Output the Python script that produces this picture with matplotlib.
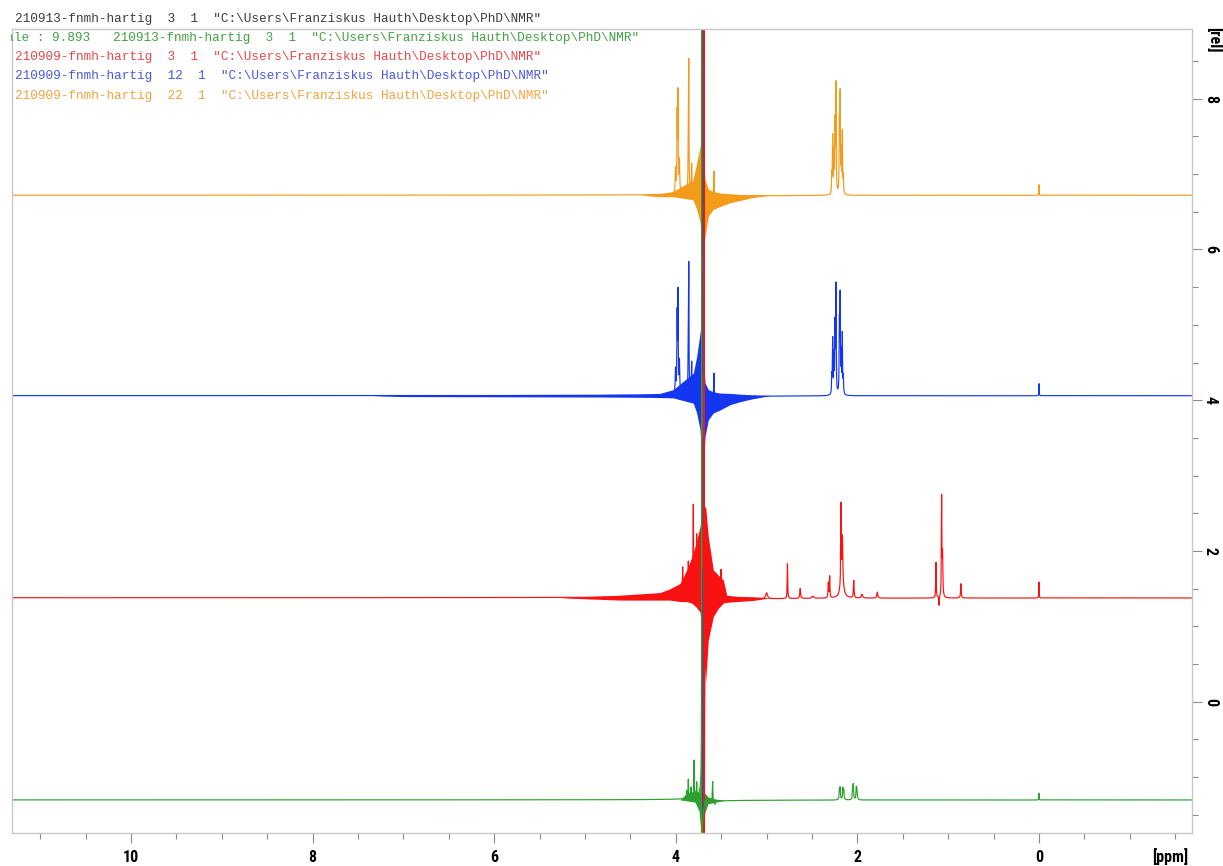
import numpy as np
import matplotlib
matplotlib.use("Agg")
import matplotlib.pyplot as plt
from matplotlib.ticker import MultipleLocator, FixedLocator
from matplotlib import font_manager as fm
from matplotlib.transforms import Bbox

# ---------------- data ----------------
x_major_ticks = [10, 8, 6, 4, 2, 0]
y_major_ticks = [8, 6, 4, 2, 0]
x_limits = (11.311, -1.682)
y_limits = (-1.744, 8.926)

title_black = '210913-fnmh-hartig  3  1  "C:\\Users\\Franziskus Hauth\\Desktop\\PhD\\NMR"'
title_green = 'Scale : 9.893   210913-fnmh-hartig  3  1  "C:\\Users\\Franziskus Hauth\\Desktop\\PhD\\NMR"'
title_red = '210909-fnmh-hartig  3  1  "C:\\Users\\Franziskus Hauth\\Desktop\\PhD\\NMR"'
title_blue = '210909-fnmh-hartig  12  1  "C:\\Users\\Franziskus Hauth\\Desktop\\PhD\\NMR"'
title_orange = '210909-fnmh-hartig  22  1  "C:\\Users\\Franziskus Hauth\\Desktop\\PhD\\NMR"'

# orange trace (210909 / 22)
orange_base = 6.72
orange_peak_ppm = [4.003, 3.985, 3.976, 3.960, 3.862, 3.857, 3.825, 3.579,
                   2.282, 2.272, 2.258, 2.246, 2.236, 2.198, 2.190, 2.178, 2.166, 2.155, 0.000]
orange_peak_h = [0.32, 1.00, 1.28, 0.42, 0.70, 1.60, 0.38, 0.35,
                 0.25, 0.75, 0.52, 0.90, 1.42, 0.90, 1.25, 0.52, 0.80, 0.22, 0.14]
orange_peak_w = [0.004, 0.003, 0.003, 0.004, 0.003, 0.0025, 0.003, 0.003,
                 0.003, 0.003, 0.003, 0.003, 0.003, 0.003, 0.003, 0.003, 0.003, 0.003, 0.002]
orange_solv_ppm = [3.703]
orange_solv_h = [80.0]
orange_solv_w = [0.00005]
orange_env_ppm = [4.394, 4.174, 4.031, 3.811, 3.770, 3.733, 3.706, 3.678, 3.642,
                  3.590, 3.513, 3.403, 3.293, 3.150, 2.963]
orange_env_up = [0.0, 0.02, 0.05, 0.20, 0.43, 0.65, 0.70, 0.21, 0.08,
                 0.05, 0.03, 0.02, 0.01, 0.01, 0.00]
orange_env_lo = [0.0, -0.02, -0.02, -0.06, -0.19, -0.36, -0.72, -0.54, -0.28,
                 -0.19, -0.15, -0.10, -0.07, -0.03, 0.0]

# blue trace (210909 / 12)
blue_base = 4.06
blue_peak_ppm = [4.003, 3.985, 3.976, 3.960, 3.862, 3.857, 3.825, 3.579,
                 2.282, 2.272, 2.258, 2.246, 2.236, 2.198, 2.190, 2.178, 2.166, 2.155, 0.000]
blue_peak_h = [0.32, 1.00, 1.29, 0.42, 0.68, 1.57, 0.41, 0.33,
               0.24, 0.72, 0.50, 0.88, 1.41, 0.90, 1.24, 0.50, 0.78, 0.22, 0.16]
blue_peak_w = [0.004, 0.003, 0.003, 0.004, 0.003, 0.0025, 0.003, 0.003,
               0.003, 0.003, 0.003, 0.003, 0.003, 0.003, 0.003, 0.003, 0.003, 0.003, 0.002]
blue_solv_ppm = [3.702]
blue_solv_h = [80.0]
blue_solv_w = [0.00005]
blue_env_ppm = [7.335, 7.037, 4.835, 4.394, 4.174, 4.028, 3.807, 3.770, 3.733, 3.711,
                3.695, 3.678, 3.642, 3.587, 3.513, 3.403, 3.293, 3.150, 2.963]
blue_env_up = [0.0, 0.012, 0.018, 0.022, 0.03, 0.08, 0.30, 0.52, 0.83, 1.05,
               0.50, 0.17, 0.08, 0.05, 0.035, 0.03, 0.02, 0.01, 0.00]
blue_env_lo = [0.0, -0.012, -0.018, -0.022, -0.025, -0.03, -0.10, -0.23, -0.45, -0.90,
               -1.00, -0.54, -0.32, -0.23, -0.19, -0.12, -0.08, -0.04, 0.0]

# red trace (210909 / 3)
red_base = 1.377
red_peak_ppm = [3.924, 3.862, 3.807, 3.770, 3.655, 3.623, 3.557, 3.502, 3.480,
                3.000, 2.770, 2.630, 2.490, 2.320, 2.305, 2.181, 2.165, 2.170, 2.040,
                1.950, 1.780, 1.134, 1.100, 1.072, 1.062, 0.860, 0.000]
red_peak_h = [0.37, 0.43, 1.16, 0.73, 0.54, 0.34, 0.30, 0.42, 0.23,
              0.08, 0.46, 0.13, 0.03, 0.20, 0.28, 1.05, 0.60, 0.22, 0.23,
              0.05, 0.08, 0.47, -0.12, 1.30, 0.55, 0.19, 0.21]
red_peak_w = [0.003, 0.003, 0.003, 0.003, 0.003, 0.003, 0.003, 0.003, 0.003,
              0.012, 0.003, 0.005, 0.010, 0.004, 0.003, 0.003, 0.005, 0.020, 0.004,
              0.008, 0.006, 0.003, 0.002, 0.003, 0.004, 0.004, 0.002]
red_solv_ppm = [3.692, 3.689, 3.686]
red_solv_h = [60.0, 60.0, 60.0]
red_solv_w = [0.00005, 0.00005, 0.00005]
red_env_ppm = [5.275, 4.615, 4.174, 4.064, 3.954, 3.880, 3.825, 3.778, 3.733, 3.697,
               3.671, 3.642, 3.587, 3.532, 3.477, 3.439, 3.329, 3.146, 2.963]
red_env_up = [0.0, 0.035, 0.07, 0.12, 0.19, 0.37, 0.54, 0.72, 0.95, 1.20,
              1.21, 0.81, 0.37, 0.30, 0.24, 0.035, 0.02, 0.015, 0.0]
red_env_lo = [0.0, -0.03, -0.03, -0.03, -0.05, -0.05, -0.07, -0.12, -0.19, -0.68,
              -1.12, -0.56, -0.25, -0.14, -0.07, -0.06, -0.05, -0.035, 0.0]

# green trace (210913 / 3)
green_base = -1.305
green_peak_ppm = [3.880, 3.862, 3.833, 3.800, 3.770, 3.680, 3.594, 3.568,
                  2.198, 2.190, 2.160, 2.150, 2.052, 2.045, 2.012, 2.005, 0.000]
green_peak_h = [0.10, 0.25, 0.14, 0.49, 0.18, 0.07, 0.27, -0.04,
                0.12, 0.15, 0.15, 0.12, 0.14, 0.18, 0.15, 0.12, 0.09]
green_peak_w = [0.003, 0.003, 0.003, 0.003, 0.003, 0.003, 0.003, 0.004,
                0.004, 0.004, 0.004, 0.004, 0.004, 0.004, 0.004, 0.004, 0.002]
green_solv_ppm = [3.715]
green_solv_h = [60.0]
green_solv_w = [0.00005]
green_env_ppm = [3.954, 3.888, 3.789, 3.744, 3.722, 3.689, 3.645, 3.557, 3.458]
green_env_up = [0.00, 0.08, 0.12, 0.10, 0.30, 0.10, 0.04, 0.01, 0.00]
green_env_lo = [0.00, -0.01, -0.03, -0.15, -0.45, -0.20, -0.05, -0.03, 0.00]

# ---------------- style ----------------
W, H = 1223, 866
col_orange = '#f59b1a'
col_blue = '#1436f0'
col_red = '#fa1212'
col_green = '#2ea02e'

avail = {f.name for f in fm.fontManager.ttflist}
label_font = next((f for f in ['Liberation Sans Narrow', 'DejaVu Sans Condensed',
                               'Roboto Condensed', 'Liberation Sans'] if f in avail), 'DejaVu Sans')
mono_font = next((f for f in ['Liberation Mono', 'DejaVu Sans Mono'] if f in avail), 'monospace')

fig = plt.figure(figsize=(W / 100, H / 100), dpi=100)
ax = fig.add_axes([12 / W, 1 - 833 / H, (1191.7 - 12) / W, (833 - 29) / H])
ax.set_xlim(*x_limits)
ax.set_ylim(*y_limits)

coarse = np.linspace(-1.75, 11.4, 26301)
fine = np.linspace(3.60, 3.80, 20001)
grid = np.union1d(coarse, fine)


def spectrum(base, pp, ph, pw, sp, sh, sw):
    y = np.full_like(grid, base)
    for x0, h, w in zip(pp, ph, pw):
        y += h * w * w / ((grid - x0) ** 2 + w * w)
    for x0, h, w in zip(sp, sh, sw):
        d = grid - x0
        y += h * w * (w + d) / (d * d + w * w)
    return y


traces = [
    (orange_base, orange_peak_ppm, orange_peak_h, orange_peak_w, orange_solv_ppm, orange_solv_h,
     orange_solv_w, orange_env_ppm, orange_env_up, orange_env_lo, col_orange),
    (blue_base, blue_peak_ppm, blue_peak_h, blue_peak_w, blue_solv_ppm, blue_solv_h,
     blue_solv_w, blue_env_ppm, blue_env_up, blue_env_lo, col_blue),
    (red_base, red_peak_ppm, red_peak_h, red_peak_w, red_solv_ppm, red_solv_h,
     red_solv_w, red_env_ppm, red_env_up, red_env_lo, col_red),
    (green_base, green_peak_ppm, green_peak_h, green_peak_w, green_solv_ppm, green_solv_h,
     green_solv_w, green_env_ppm, green_env_up, green_env_lo, col_green),
]

for base, pp, ph, pw, sp, sh, sw, ep, eu, el, col in traces:
    ep = np.asarray(ep)
    ax.fill_between(ep, base + np.asarray(el), base + np.asarray(eu), color=col, lw=0)
    ax.plot(grid, spectrum(base, pp, ph, pw, sp, sh, sw), color=col, lw=0.85)

# axes styling
for s in ax.spines.values():
    s.set_color('#c8c8c8')
    s.set_linewidth(1.0)
ax.xaxis.set_major_locator(FixedLocator(x_major_ticks))
ax.xaxis.set_minor_locator(MultipleLocator(0.5))
ax.yaxis.set_major_locator(FixedLocator(y_major_ticks))
ax.yaxis.set_minor_locator(MultipleLocator(0.5))
ax.yaxis.tick_right()
ax.tick_params(axis='both', which='both', direction='out', color='#8c8c8c', width=0.8)
ax.tick_params(axis='both', which='major', length=7)
ax.tick_params(axis='both', which='minor', length=4)
ax.tick_params(axis='x', which='major', pad=5, labelsize=11.5)
ax.tick_params(axis='y', which='major', pad=1, labelsize=11.5, labelrotation=-90,
               labelright=True, labelleft=False)
for lab in ax.get_xticklabels() + ax.get_yticklabels():
    lab.set_fontfamily(label_font)
    lab.set_fontweight('bold')
for lab in ax.get_yticklabels():
    lab.set_verticalalignment('center')

fig.text(1170 / W, 1 - 857 / H, '[ppm]', ha='center', va='center', fontsize=11.5,
         fontweight='bold', family=label_font)
fig.text(1215 / W, 1 - 40 / H, '[rel]', ha='center', va='center', fontsize=11.5,
         fontweight='bold', family=label_font, rotation=-90)

# header lines
fs_mono = 9.2
fig.text(15 / W, 1 - 19 / H, title_black, color='#3c3c3c', family=mono_font, fontsize=fs_mono, va='center')
tg = fig.text(-9 / W, 1 - 38 / H, title_green, color='#44a044', family=mono_font, fontsize=fs_mono, va='center')
tg.set_clip_box(Bbox.from_extents(10.5, 0, W, H))
tg.set_clip_on(True)
fig.text(15 / W, 1 - 57 / H, title_red, color='#e84848', family=mono_font, fontsize=fs_mono, va='center')
fig.text(15 / W, 1 - 76 / H, title_blue, color='#4858e0', family=mono_font, fontsize=fs_mono, va='center')
fig.text(15 / W, 1 - 96 / H, title_orange, color='#f2a440', family=mono_font, fontsize=fs_mono, va='center')

fig.savefig('out.png', dpi=100)
